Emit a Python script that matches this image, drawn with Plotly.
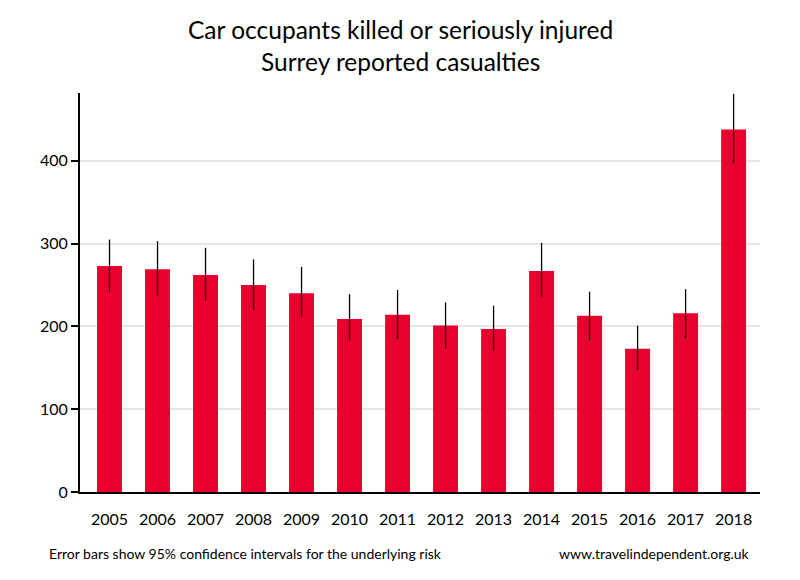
import plotly.graph_objects as go

years = ["2005", "2006", "2007", "2008", "2009", "2010", "2011",
         "2012", "2013", "2014", "2015", "2016", "2017", "2018"]
casualties = [273, 269, 262, 250, 240, 209, 214, 201, 197, 267, 213, 173, 216, 438]
ci_upper = [305, 303, 295, 281, 272, 239, 244, 229, 225, 301, 242, 201, 245, 481]
ci_lower = [241, 237, 231, 219, 211, 182, 185, 173, 170, 236, 184, 148, 186, 398]

err_plus = [u - v for u, v in zip(ci_upper, casualties)]
err_minus = [v - l for v, l in zip(casualties, ci_lower)]

FONT = "Lato, 'Open Sans', sans-serif"

fig = go.Figure()
fig.add_trace(go.Bar(
    x=years, y=casualties,
    marker=dict(color="#e8002f", line=dict(width=0)),
    error_y=dict(type="data", symmetric=False, array=err_plus, arrayminus=err_minus,
                 color="black", thickness=1.3, width=0),
    hoverinfo="x+y",
))

fig.update_layout(
    width=800, height=580,
    margin=dict(l=72, r=48, t=85, b=96),
    paper_bgcolor="white", plot_bgcolor="white",
    bargap=0.48,
    showlegend=False,
    font=dict(family=FONT, color="black", size=15),
    xaxis=dict(
        type="category", range=[-0.615, 13.55],
        showline=True, linecolor="black", linewidth=2,
        showgrid=False, ticks="", tickfont=dict(size=16, family=FONT),
        ticklabelstandoff=12,
        zeroline=False,
    ),
    yaxis=dict(
        range=[0, 482], tickvals=[0, 100, 200, 300, 400],
        showline=True, linecolor="black", linewidth=2,
        showgrid=True, gridcolor="#e6e6e6", gridwidth=2,
        ticks="outside", ticklen=7, tickwidth=2, tickcolor="black",
        tickfont=dict(size=16, family=FONT), zeroline=False,
    ),
    annotations=[
        dict(text="Car occupants killed or seriously injured", x=0.4706, y=1.158,
             xref="paper", yref="paper", xanchor="center", yanchor="middle",
             showarrow=False, font=dict(size=24.5, family=FONT)),
        dict(text="Surrey reported casualties", x=0.4706, y=1.078,
             xref="paper", yref="paper", xanchor="center", yanchor="middle",
             showarrow=False, font=dict(size=24.5, family=FONT)),
        dict(text="Error bars show 95% confidence intervals for the underlying risk",
             x=-0.0485, y=-0.155, xref="paper", yref="paper",
             xanchor="left", yanchor="middle", showarrow=False,
             font=dict(size=14, family=FONT)),
        dict(text="www.travelindependent.org.uk",
             x=0.988, y=-0.155, xref="paper", yref="paper",
             xanchor="right", yanchor="middle", showarrow=False,
             font=dict(size=14, family=FONT)),
    ],
)

fig.write_html("out.html")
